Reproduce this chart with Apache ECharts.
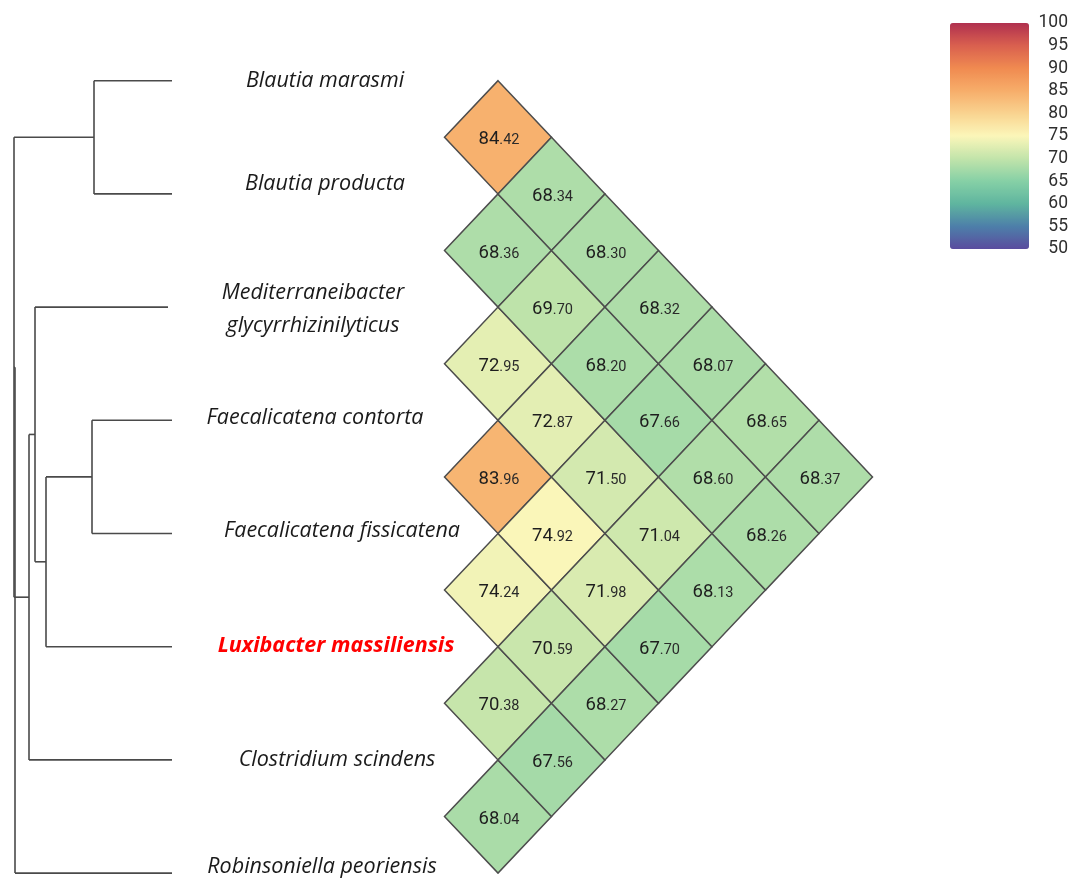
<!DOCTYPE html>
<html>
<head>
<meta charset="utf-8">
<script src="https://cdn.jsdelivr.net/npm/echarts@6/dist/echarts.min.js"></script>
<style>
  html, body { margin: 0; padding: 0; background: #fff; }
  #chart { width: 1074px; height: 878px; }
</style>
</head>
<body>
<div id="chart"></div>
<script>
// ---------------- DATA ----------------
const species = [
  'Blautia marasmi',
  'Blautia producta',
  'Mediterraneibacter\nglycyrrhizinilyticus',
  'Faecalicatena contorta',
  'Faecalicatena fissicatena',
  'Luxibacter massiliensis',
  'Clostridium scindens',
  'Robinsoniella peoriensis'
];
const highlightSpecies = 'Luxibacter massiliensis';

// pairwise values [speciesIndexA, speciesIndexB, value]
const pairsA = [0, 1, 2, 3, 4, 5, 6,  0, 1, 2, 3, 4, 5,  0, 1, 2, 3, 4,  0, 1, 2, 3,  0, 1, 2,  0, 1,  0];
const pairsB = [1, 2, 3, 4, 5, 6, 7,  2, 3, 4, 5, 6, 7,  3, 4, 5, 6, 7,  4, 5, 6, 7,  5, 6, 7,  6, 7,  7];
const pairValues = [
  84.42, 68.36, 72.95, 83.96, 74.24, 70.38, 68.04,
  68.34, 69.70, 72.87, 74.92, 70.59, 67.56,
  68.30, 68.20, 71.50, 71.98, 68.27,
  68.32, 67.66, 71.04, 67.70,
  68.07, 68.60, 68.13,
  68.65, 68.26,
  68.37
];

// dendrogram: internal nodes with depth (horizontal position) and children (leaf index or node)
const tree = { h: 15, c: [
  { h: 14, c: [
    { h: 94, c: [0, 1] },
    { h: 29, c: [
      { h: 35, c: [2, { h: 46, c: [ { h: 92, c: [3, 4] }, 5 ] }] },
      6
    ] }
  ] },
  7
] };
const leafDepth = [172, 172, 168, 172, 172, 172, 172, 172];

const scaleTicks = [50, 55, 60, 65, 70, 75, 80, 85, 90, 95, 100];
const scaleColors = ['#5a4c9e', '#4d7fa9', '#5fb59f', '#86d0a6', '#c2e4aa', '#fbf6b9',
                     '#f9d390', '#f7ad6a', '#f08a50', '#d9604f', '#b0304f'];

// ---------------- LAYOUT ----------------
const L = {
  leafTop: 80.7, leafStep: 113.2, W: 1074, H: 878,
  cellX0: 498, cellDX: 53.5,
  labelCX: [325, 325, 313, 315, 342, 336, 337, 322],
  labelDY: [0, -10, 2, -2, -3, -1, 0, -6]
};

// ---------------- BUILD ----------------
const cellData = pairValues.map((v, k) => [pairsA[k], pairsB[k], v]);

const segs = [];
function walk(node) {
  if (typeof node === 'number') return node;
  const ys = node.c.map(ch => {
    const y = walk(ch);
    const x2 = (typeof ch === 'number') ? leafDepth[ch] : ch.h;
    segs.push([node.h, y, x2, y]);
    return y;
  });
  const yMin = Math.min(...ys), yMax = Math.max(...ys);
  segs.push([node.h, yMin, node.h, yMax]);
  return (yMin + yMax) / 2;
}
walk(tree);

const yMinAxis = -L.leafTop / L.leafStep;
const yMaxAxis = (L.H - L.leafTop) / L.leafStep;

const labelData = species.map((s, k) => [k]);

const chart = echarts.init(document.getElementById('chart'));
chart.setOption({
  animation: false,
  backgroundColor: '#fff',
  grid: [
    { left: 0, top: 0, width: L.W, height: L.H },
    { left: 950, top: 23, width: 79, height: 226 }
  ],
  xAxis: [
    { type: 'value', gridIndex: 0, min: 0, max: L.W, show: false },
    { type: 'value', gridIndex: 1, min: 0, max: 1, show: false }
  ],
  yAxis: [
    { type: 'value', gridIndex: 0, min: yMinAxis, max: yMaxAxis, inverse: true, show: false },
    { type: 'value', gridIndex: 1, min: 50, max: 100, interval: 5, position: 'right',
      axisLine: { show: false }, axisTick: { show: false }, splitLine: { show: false },
      axisLabel: { margin: 39, align: 'right', fontSize: 17.5, color: '#2e2e2e',
                   fontFamily: 'Roboto, "DejaVu Sans", sans-serif' } }
  ],
  visualMap: {
    type: 'continuous',
    min: scaleTicks[0], max: scaleTicks[scaleTicks.length - 1],
    dimension: 2,
    seriesIndex: 1,
    calculable: false,
    realtime: false,
    left: 950, top: 23,
    itemWidth: 79, itemHeight: 226,
    padding: 0,
    text: null,
    showLabel: false,
    inRange: { color: scaleColors }
  },
  series: [
    {
      type: 'custom',
      name: 'tree',
      xAxisIndex: 0, yAxisIndex: 0,
      data: segs,
      silent: true,
      renderItem: function (params, api) {
        const p1 = api.coord([api.value(0), api.value(1)]);
        const p2 = api.coord([api.value(2), api.value(3)]);
        return { type: 'line', shape: { x1: p1[0], y1: p1[1], x2: p2[0], y2: p2[1] },
                 style: { stroke: '#4a4a4a', lineWidth: 1.6 } };
      }
    },
    {
      type: 'custom',
      name: 'cells',
      xAxisIndex: 0, yAxisIndex: 0,
      data: cellData,
      silent: true,
      renderItem: function (params, api) {
        const i = api.value(0), j = api.value(1), v = api.value(2);
        const d = j - i;
        const cx = L.cellX0 + (d - 1) * L.cellDX;
        const cy = (i + j) / 2;
        const top = api.coord([cx, cy - 0.5]);
        const right = api.coord([cx + L.cellDX, cy]);
        const bottom = api.coord([cx, cy + 0.5]);
        const left = api.coord([cx - L.cellDX, cy]);
        const c = api.coord([cx, cy]);
        const parts = v.toFixed(2).split('.');
        return {
          type: 'group',
          children: [
            { type: 'polygon', shape: { points: [top, right, bottom, left] },
              style: { fill: api.visual('color'), stroke: '#4d4d4d', lineWidth: 1.5 } },
            { type: 'text', x: c[0] + 1, y: c[1] + 2,
              style: {
                text: '{a|' + parts[0] + '}{b|.' + parts[1] + '}',
                align: 'center', verticalAlign: 'middle',
                rich: {
                  a: { fontSize: 18.5, fontFamily: 'Roboto, sans-serif', fill: '#1e1e1e', lineHeight: 20, verticalAlign: 'bottom' },
                  b: { fontSize: 14.5, fontFamily: 'Roboto, sans-serif', fill: '#2a2a2a', lineHeight: 20, verticalAlign: 'bottom', padding: [0, 0, 1, 0] }
                }
              } }
          ]
        };
      }
    },
    {
      type: 'custom',
      name: 'labels',
      xAxisIndex: 0, yAxisIndex: 0,
      data: labelData,
      silent: true,
      renderItem: function (params, api) {
        const k = api.value(0);
        const p = api.coord([L.labelCX[k], k]);
        const hi = species[k] === highlightSpecies;
        return {
          type: 'text', x: p[0], y: p[1] + L.labelDY[k],
          style: {
            text: species[k],
            align: 'center', verticalAlign: 'middle',
            fontFamily: '"Open Sans", Lato, sans-serif',
            fontStyle: 'italic',
            fontWeight: hi ? 'bold' : 'normal',
            fontSize: 21.5,
            lineHeight: 33,
            fill: hi ? '#ff0000' : '#1a1a1a'
          }
        };
      }
    }
  ]
});
</script>
</body>
</html>
